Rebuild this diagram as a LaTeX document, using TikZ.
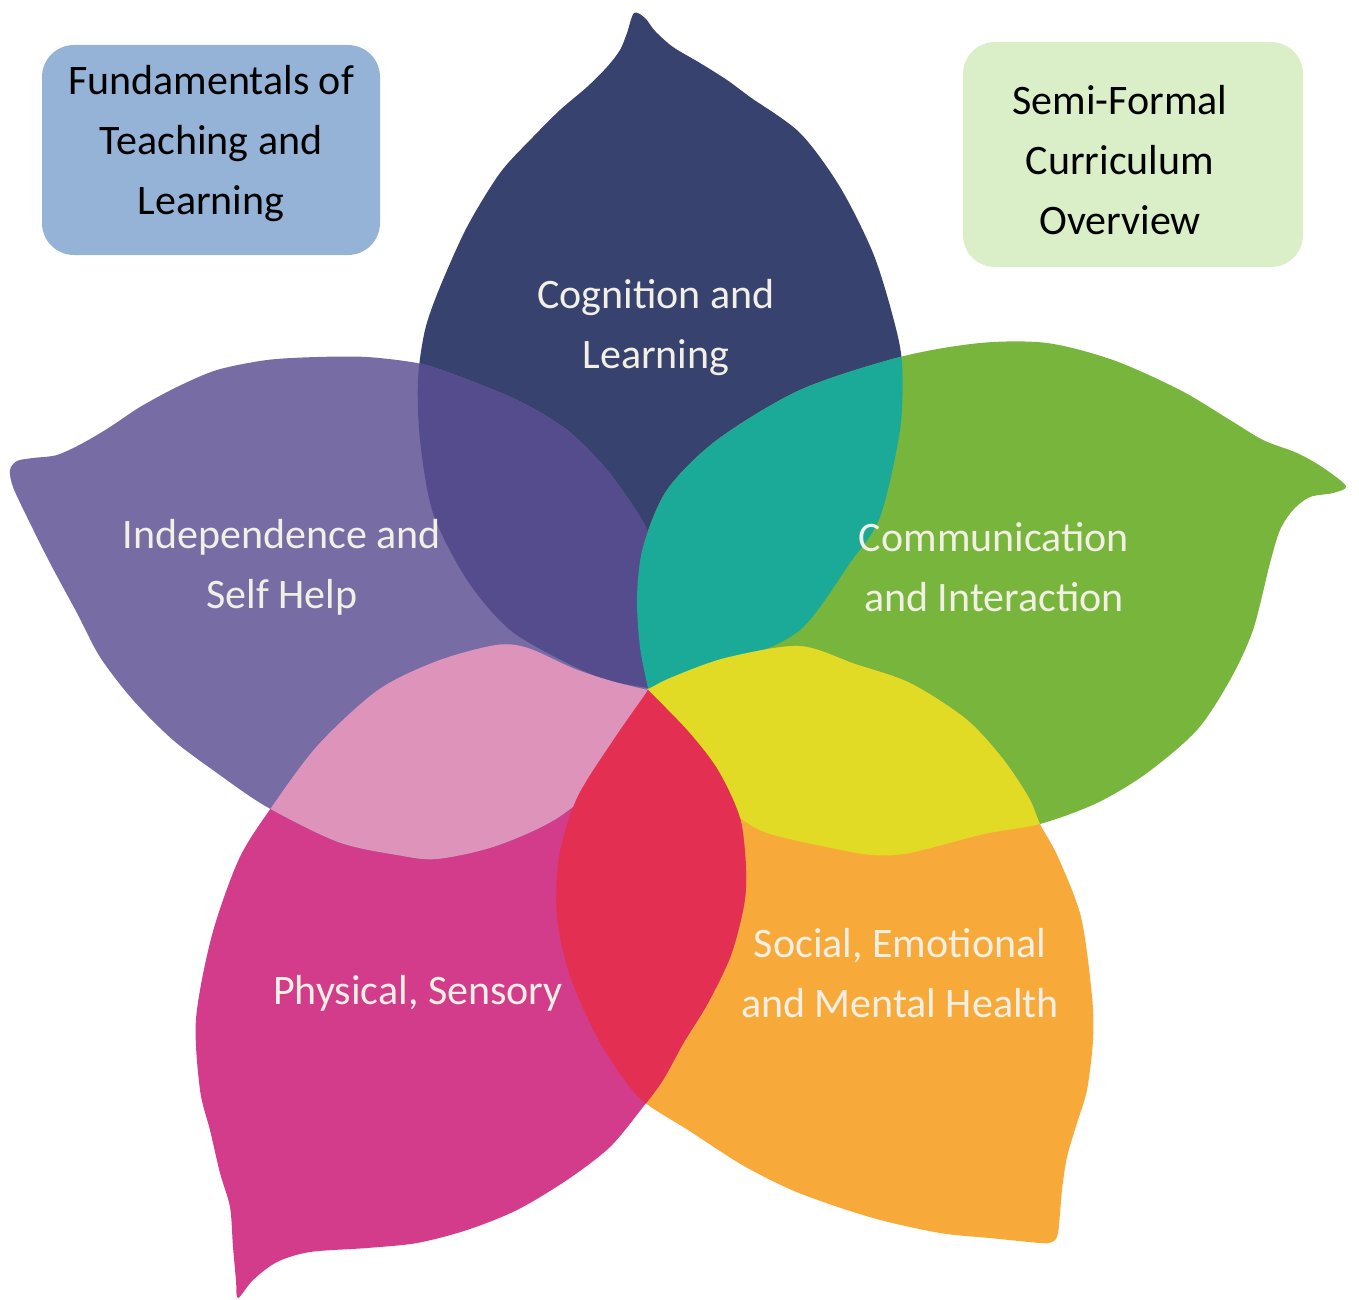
\documentclass[tikz,border=0pt]{standalone}
\usepackage{fontspec}
\setmainfont{Carlito}
\usetikzlibrary{positioning}

\definecolor{cogcol}{HTML}{38426F}
\definecolor{comcol}{HTML}{77B53C}
\definecolor{soccol}{HTML}{F7AA3A}
\definecolor{phycol}{HTML}{D33C8A}
\definecolor{indcol}{HTML}{786CA5}
\definecolor{cogind}{HTML}{554C8D}
\definecolor{cogcom}{HTML}{1AAA97}
\definecolor{comsoc}{HTML}{E2DB26}
\definecolor{socphy}{HTML}{E32F52}
\definecolor{phyind}{HTML}{DE93BB}
\definecolor{boxblue}{HTML}{95B3D7}
\definecolor{boxgreen}{HTML}{DAEFC7}
\definecolor{labelcol}{HTML}{F2EFE4}

% petal outlines (pixel coordinates, y downwards)
\newcommand{\cogpath}{plot[smooth] coordinates {(648,688) (607,680) (567,663) (510,630) (467,580) (433,513) (420,440) (418,380) (425,330) (440,287) (467,227) (500,173) (533,137) (560,110) (587,87) (607,67) (620,50) (627,33) (634,13) (645,18) (655,31) (673,47) (700,63) (727,80) (750,97) (800,133) (840,187) (873,253) (893,317) (902,363) (900,430) (880,517) (850,563) (800,630) (733,662) (648,688)} -- cycle}
\newcommand{\compath}{plot[smooth] coordinates {(648,688) (640,647) (637,597) (643,547) (667,490) (717,440) (800,390) (900,357) (980,343) (1047,343) (1113,360) (1180,390) (1230,420) (1263,440) (1297,453) (1322,467) (1346,486) (1333,493) (1310,497) (1293,510) (1280,530) (1270,563) (1253,630) (1230,680) (1197,730) (1147,773) (1097,803) (1040,824) (984,834) (910,853) (873,855) (836,849) (770,834) (740,818) (700,785) (668,740) (648,688)} -- cycle}
\newcommand{\socpath}{plot[smooth] coordinates {(649,689) (670,678) (725,658) (799,646) (855,664) (910,683) (966,719) (1003,759) (1029,798) (1040,824) (1058,857) (1081,917) (1092,996) (1093,1040) (1087,1090) (1077,1123) (1067,1157) (1062,1190) (1058,1233) (1052,1242) (1040,1243) (990,1238) (940,1233) (873,1218) (799,1193) (744,1166) (688,1130) (644,1102) (621,1075) (596,1035) (570,976) (557,917) (559,857) (577,798) (614,739) (649,689)} -- cycle}
\newcommand{\phypath}{plot[smooth] coordinates {(648,690) (615,682) (575,669) (528,648) (496,645) (437,661) (378,690) (318,745) (271,808) (239,859) (212,935) (196,1019) (200,1090) (210,1130) (220,1173) (230,1207) (233,1247) (236,1280) (238,1298) (253,1280) (277,1262) (310,1252) (367,1248) (417,1243) (467,1230) (517,1210) (567,1180) (610,1147) (643,1107) (663,1080) (684,1042) (708,1003) (731,955) (744,905) (746,870) (740,818) (718,770) (688,731) (648,690)} -- cycle}
\newcommand{\indpath}{plot[smooth] coordinates {(648,688) (652,600) (650,543) (640,517) (607,470) (567,430) (517,400) (450,373) (417,363) (367,357) (317,357) (267,360) (217,370) (177,387) (140,407) (110,427) (83,443) (57,455) (33,458) (17,461) (10,470) (13,487) (27,517) (50,563) (77,613) (100,657) (133,700) (173,740) (217,773) (267,807) (338,842) (397,855) (437,859) (496,846) (559,817) (615,766) (648,688)} -- cycle}

% fill the second path inside the first
\newcommand{\overlap}[3]{\begin{scope}\clip #1;\fill[#3] #2;\end{scope}}

\begin{document}
\begin{tikzpicture}[x=1pt,y=-1pt,
    lbl/.style={text=labelcol, align=center, font=\fontsize{42}{60}\selectfont},
    boxtxt/.style={text=black, align=center, font=\fontsize{42}{60}\selectfont},
    box/.style={rounded corners=32pt, inner sep=0pt}]
\useasboundingbox (0,0) rectangle (1359,1300);

    % petals
    \fill[cogcol] \cogpath;
    \fill[comcol] \compath;
    \fill[soccol] \socpath;
    \fill[phycol] \phypath;
    \fill[indcol] \indpath;

    % overlaps
    \overlap{\cogpath}{\indpath}{cogind}
    \overlap{\cogpath}{\compath}{cogcom}
    \overlap{\compath}{\socpath}{comsoc}
    \overlap{\indpath}{\phypath}{phyind}
    \overlap{\phypath}{\socpath}{socphy}

    \node[lbl] (cog) at (656,328) {Cognition and\\Learning};
    \node[lbl] (ind) at (282,567) {Independence and\\Self Help};
    \node[lbl] (com) at (994,567) {Communication\\and Interaction};
    \node[lbl] (phy) at (418,993) {Physical, Sensory};
    \node[lbl] (soc) at (900,973) {Social, Emotional\\and Mental Health};

    % corner boxes
    \node[box, fill=boxblue, minimum width=338pt, minimum height=210pt] (fundbox) at (211,150) {};
    \node[boxtxt] (fundtxt) at (211,144) {Fundamentals of\\Teaching and\\Learning};
    \node[box, fill=boxgreen, minimum width=340pt, minimum height=225pt] (semibox) at (1133,154.5) {};
    \node[boxtxt] (semitxt) at (1120,160) {Semi-Formal\\Curriculum\\Overview};
\end{tikzpicture}
\end{document}
